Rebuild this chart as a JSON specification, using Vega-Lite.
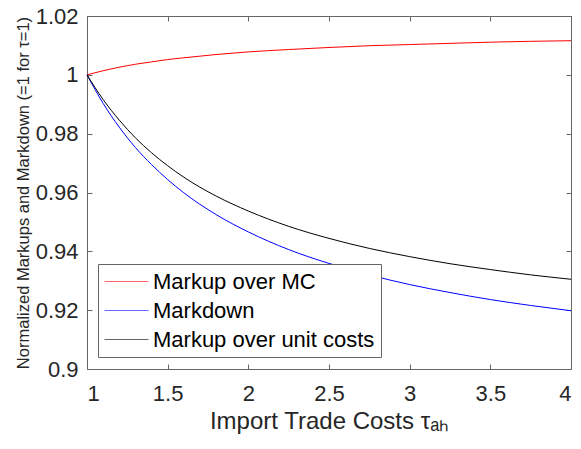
{
  "$schema": "https://vega.github.io/schema/vega-lite/v6.json",
  "autosize": "none",
  "width": 484,
  "height": 353,
  "padding": {"left": 87, "top": 16, "right": 10, "bottom": 80},
  "background": "white",
  "config": {
    "font": "Liberation Sans",
    "view": {"stroke": "#666666", "strokeWidth": 1},
    "axis": {"grid": false, "domainColor": "#666666", "tickColor": "#666666", "labelColor": "#262626", "titleColor": "#262626", "labelFont": "Liberation Sans", "titleFont": "Liberation Sans", "titleFontWeight": "normal"}
  },
  "data": {"values": [
    {"tau": 1.0, "series": "Markup over MC", "v": 1.0000},
    {"tau": 1.1, "series": "Markup over MC", "v": 1.0014},
    {"tau": 1.2, "series": "Markup over MC", "v": 1.0026},
    {"tau": 1.3, "series": "Markup over MC", "v": 1.0036},
    {"tau": 1.4, "series": "Markup over MC", "v": 1.0044},
    {"tau": 1.5, "series": "Markup over MC", "v": 1.0052},
    {"tau": 1.6, "series": "Markup over MC", "v": 1.0058},
    {"tau": 1.8, "series": "Markup over MC", "v": 1.0069},
    {"tau": 2.0, "series": "Markup over MC", "v": 1.0078},
    {"tau": 2.25, "series": "Markup over MC", "v": 1.0086},
    {"tau": 2.5, "series": "Markup over MC", "v": 1.0093},
    {"tau": 2.75, "series": "Markup over MC", "v": 1.0099},
    {"tau": 3.0, "series": "Markup over MC", "v": 1.0103},
    {"tau": 3.25, "series": "Markup over MC", "v": 1.0107},
    {"tau": 3.5, "series": "Markup over MC", "v": 1.0111},
    {"tau": 3.75, "series": "Markup over MC", "v": 1.0114},
    {"tau": 4.0, "series": "Markup over MC", "v": 1.0116},
    {"tau": 1.0, "series": "Markdown", "v": 1.0000},
    {"tau": 1.1, "series": "Markdown", "v": 0.9903},
    {"tau": 1.2, "series": "Markdown", "v": 0.9822},
    {"tau": 1.3, "series": "Markdown", "v": 0.9753},
    {"tau": 1.4, "series": "Markdown", "v": 0.9695},
    {"tau": 1.5, "series": "Markdown", "v": 0.9644},
    {"tau": 1.6, "series": "Markdown", "v": 0.9599},
    {"tau": 1.8, "series": "Markdown", "v": 0.9525},
    {"tau": 2.0, "series": "Markdown", "v": 0.9466},
    {"tau": 2.25, "series": "Markdown", "v": 0.9406},
    {"tau": 2.5, "series": "Markdown", "v": 0.9359},
    {"tau": 2.75, "series": "Markdown", "v": 0.9320},
    {"tau": 3.0, "series": "Markdown", "v": 0.9287},
    {"tau": 3.25, "series": "Markdown", "v": 0.9260},
    {"tau": 3.5, "series": "Markdown", "v": 0.9236},
    {"tau": 3.75, "series": "Markdown", "v": 0.9216},
    {"tau": 4.0, "series": "Markdown", "v": 0.9198},
    {"tau": 1.0, "series": "Markup over unit costs", "v": 1.0000},
    {"tau": 1.1, "series": "Markup over unit costs", "v": 0.9916},
    {"tau": 1.2, "series": "Markup over unit costs", "v": 0.9846},
    {"tau": 1.3, "series": "Markup over unit costs", "v": 0.9786},
    {"tau": 1.4, "series": "Markup over unit costs", "v": 0.9735},
    {"tau": 1.5, "series": "Markup over unit costs", "v": 0.9691},
    {"tau": 1.6, "series": "Markup over unit costs", "v": 0.9652},
    {"tau": 1.8, "series": "Markup over unit costs", "v": 0.9588},
    {"tau": 2.0, "series": "Markup over unit costs", "v": 0.9537},
    {"tau": 2.25, "series": "Markup over unit costs", "v": 0.9485},
    {"tau": 2.5, "series": "Markup over unit costs", "v": 0.9444},
    {"tau": 2.75, "series": "Markup over unit costs", "v": 0.9410},
    {"tau": 3.0, "series": "Markup over unit costs", "v": 0.9382},
    {"tau": 3.25, "series": "Markup over unit costs", "v": 0.9358},
    {"tau": 3.5, "series": "Markup over unit costs", "v": 0.9338},
    {"tau": 3.75, "series": "Markup over unit costs", "v": 0.9320},
    {"tau": 4.0, "series": "Markup over unit costs", "v": 0.9305}
  ]},
  "layer": [
    {
      "mark": {"type": "line", "strokeWidth": 1, "interpolate": "monotone"},
      "encoding": {
        "x": {"field": "tau", "type": "quantitative", "scale": {"domain": [1, 4], "nice": false, "zero": false},
          "axis": {"orient": "bottom", "values": [1, 1.5, 2, 2.5, 3, 3.5, 4], "format": ".1~f", "tickSize": -5, "labelPadding": 19, "labelFontSize": 22, "title": "Import Trade Costs τₐₕ", "titleFontSize": 24, "titlePadding": 5}},
        "y": {"field": "v", "type": "quantitative", "scale": {"domain": [0.9, 1.02], "nice": false, "zero": false},
          "axis": {"orient": "left", "values": [0.9, 0.92, 0.94, 0.96, 0.98, 1.0, 1.02], "format": ".2~f", "tickSize": -5, "labelPadding": 14, "labelFontSize": 22, "title": "Normalized Markups and Markdown (=1 for τ=1)", "titleFontSize": 16.5, "titlePadding": 4}},
        "color": {"field": "series", "type": "nominal",
          "scale": {"domain": ["Markup over MC", "Markdown", "Markup over unit costs"], "range": ["#ff0000", "#0000ff", "#000000"]},
          "legend": {"title": null, "orient": "none", "legendX": 11, "legendY": 248, "symbolType": "M-1,0H3", "symbolSize": 484, "symbolStrokeWidth": 1, "labelFontSize": 22, "labelFont": "Liberation Sans", "labelColor": "#000000", "labelOffset": 26, "labelLimit": 500, "fillColor": "white", "strokeColor": "#666666", "padding": 6, "rowPadding": 6,
            "encode": {"symbols": {"update": {"stroke": {"scale": "color", "field": "value"}, "opacity": {"value": 0.6}, "fill": {"value": "transparent"}}}}}},
        "order": {"field": "tau", "type": "quantitative"}
      }
    },
    {
      "mark": {"type": "line", "opacity": 0},
      "encoding": {
        "x": {"field": "tau", "type": "quantitative", "axis": {"orient": "top", "values": [1, 1.5, 2, 2.5, 3, 3.5, 4], "labels": false, "tickSize": -5, "title": null}},
        "y": {"field": "v", "type": "quantitative", "axis": {"orient": "right", "values": [0.9, 0.92, 0.94, 0.96, 0.98, 1.0, 1.02], "labels": false, "tickSize": -5, "title": null}},
        "detail": {"field": "series"}
      }
    }
  ],
  "resolve": {"axis": {"x": "independent", "y": "independent"}}
}
